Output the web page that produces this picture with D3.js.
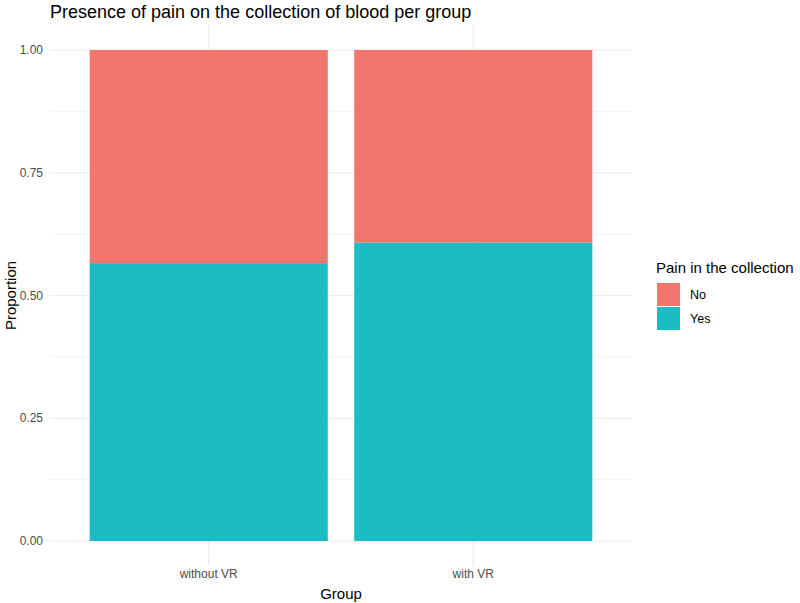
<!DOCTYPE html>
<html>
<head>
<meta charset="utf-8">
<script src="https://cdn.jsdelivr.net/npm/d3@7"></script>
<style>
body { margin: 0; background: #fff; }
text { font-family: "Liberation Sans", Arial, sans-serif; }
</style>
</head>
<body>
<script>
// data
const groups = ["without VR", "with VR"];
const painLevels = ["No", "Yes"];
const yesShare = [0.566, 0.608];
const yTicks = [0, 0.25, 0.5, 0.75, 1];
const colors = ["#F3766E", "#1BBCC4"];

const width = 800, height = 603;
const margin = {top: 50, right: 168, bottom: 62, left: 50};

const svg = d3.select("body").append("svg")
    .attr("width", width)
    .attr("height", height);

// ggplot-like discrete expansion: 0.6 units on each side
const x = d3.scaleLinear()
    .domain([0.4, groups.length + 0.6])
    .range([margin.left, width - margin.right]);

const y = d3.scaleLinear()
    .domain([0, 1])
    .range([height - margin.bottom, margin.top]);

const xMin = x.range()[0], xMax = x.range()[1];
const yMin = y(-0.05), yMax = y(1.05);

// grid
const grid = svg.append("g");
const minor = [0.125, 0.375, 0.625, 0.875];
grid.selectAll(".minor").data(minor).enter().append("line")
    .attr("x1", xMin).attr("x2", xMax)
    .attr("y1", d => y(d)).attr("y2", d => y(d))
    .attr("stroke", "#ebebeb").attr("stroke-width", 0.6);
grid.selectAll(".major").data(yTicks).enter().append("line")
    .attr("x1", xMin).attr("x2", xMax)
    .attr("y1", d => y(d)).attr("y2", d => y(d))
    .attr("stroke", "#ebebeb").attr("stroke-width", 1.2);
grid.selectAll(".vmajor").data(groups).enter().append("line")
    .attr("x1", (d, i) => x(i + 1)).attr("x2", (d, i) => x(i + 1))
    .attr("y1", yMin).attr("y2", yMax)
    .attr("stroke", "#ebebeb").attr("stroke-width", 1.2);

// stacked bars
const data = groups.map((g, i) => ({group: g, i: i + 1, No: 1 - yesShare[i], Yes: yesShare[i]}));
const stack = d3.stack().keys(["Yes", "No"]);
const series = stack(data);

svg.append("g").selectAll("g")
  .data(series).enter().append("g")
    .attr("fill", d => colors[painLevels.indexOf(d.key)])
  .selectAll("rect")
  .data(d => d).enter().append("rect")
    .attr("x", d => x(d.data.i - 0.45))
    .attr("width", x(0.9) - x(0))
    .attr("y", d => y(d[1]))
    .attr("height", d => y(d[0]) - y(d[1]));

// axes labels
svg.append("g").selectAll("text")
  .data(yTicks).enter().append("text")
    .attr("x", 43)
    .attr("y", d => y(d))
    .attr("dy", "0.35em")
    .attr("text-anchor", "end")
    .attr("font-size", 12)
    .attr("fill", "#4d4d4d")
    .text(d => d3.format(".2f")(d));

svg.append("g").selectAll("text")
  .data(groups).enter().append("text")
    .attr("x", (d, i) => x(i + 1))
    .attr("y", 578)
    .attr("text-anchor", "middle")
    .attr("font-size", 12)
    .attr("fill", "#4d4d4d")
    .text(d => d);

svg.append("text")
    .attr("x", x(1.5))
    .attr("y", 599)
    .attr("text-anchor", "middle")
    .attr("font-size", 15)
    .attr("fill", "#000")
    .text("Group");

svg.append("text")
    .attr("transform", `translate(16,${y(0.5)}) rotate(-90)`)
    .attr("text-anchor", "middle")
    .attr("font-size", 15)
    .attr("fill", "#000")
    .text("Proportion");

// title
svg.append("text")
    .attr("x", xMin)
    .attr("y", 18)
    .attr("font-size", 18)
    .attr("fill", "#000")
    .text("Presence of pain on the collection of blood per group");

// legend
const legend = svg.append("g").attr("transform", "translate(656,0)");
legend.append("text")
    .attr("x", 0).attr("y", 273)
    .attr("font-size", 15)
    .attr("fill", "#000")
    .text("Pain in the collection");
painLevels.forEach((k, i) => {
  legend.append("rect")
      .attr("x", 1).attr("y", 283 + i * 24)
      .attr("width", 23).attr("height", 23)
      .attr("fill", colors[i]);
  legend.append("text")
      .attr("x", 34).attr("y", 295 + i * 24)
      .attr("dy", "0.35em")
      .attr("font-size", 12.5)
      .attr("fill", "#000")
      .text(k);
});
</script>
</body>
</html>
